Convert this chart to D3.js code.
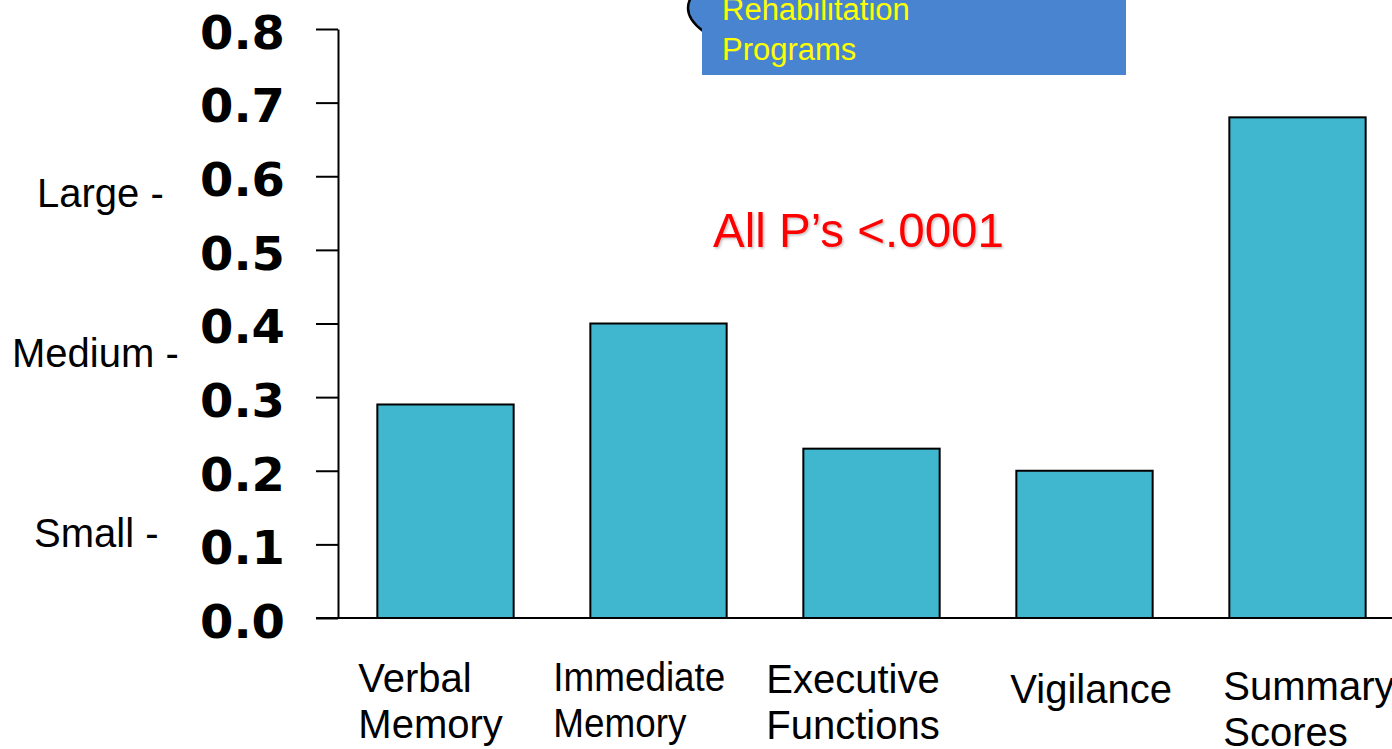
<!DOCTYPE html>
<html>
<head>
<meta charset="utf-8">
<script src="https://cdn.jsdelivr.net/npm/d3@7"></script>
<style>
  html, body { margin: 0; padding: 0; background: #fff; overflow: hidden; }
  svg { display: block; }
</style>
</head>
<body>
<svg id="chart" width="1392" height="749"></svg>
<script>
// ---- data ----
const categories = ["Verbal Memory", "Immediate Memory", "Executive Functions", "Vigilance", "Summary Scores"];
const categoryLines = [["Verbal", "Memory"], ["Immediate", "Memory"], ["Executive", "Functions"], ["Vigilance"], ["Summary", "Scores"]];
const effectSizes = [0.29, 0.40, 0.23, 0.20, 0.68];
const yTicks = [0.0, 0.1, 0.2, 0.3, 0.4, 0.5, 0.6, 0.7, 0.8];
const effectLabels = ["Large -", "Medium -", "Small -"];
const annotationText = "All P\u2019s <.0001";
const calloutLines = ["Rehabilitation", "Programs"];

// ---- layout ----
const W = 1392, H = 749;
const axisX = 338, baseY = 618, topY = 29;
const labelDx = [-19, -37, -37, -6, -6];
const labelDy = [74, 73, 75, 85, 82];
const condensedWidths = { 1: [172, 133] };   // Immediate Memory label is set condensed
const effectLabelPos = [[37, 207], [12, 367], [34, 547]];

const svg = d3.select("#chart");

const x = d3.scaleBand().domain(categories).range([339, 1404]).paddingInner(0.36).paddingOuter(0.18);
const y = d3.scaleLinear().domain([0, 0.8]).range([baseY, topY]);

// drop shadow filter for red annotation
const defs = svg.append("defs");
const f = defs.append("filter").attr("id", "shadow").attr("x", "-10%").attr("y", "-30%").attr("width", "120%").attr("height", "160%");
f.append("feDropShadow").attr("dx", 1.5).attr("dy", 1.5).attr("stdDeviation", 1.2).attr("flood-color", "#000").attr("flood-opacity", 0.25);

// callout (speech blob + box)
svg.append("ellipse")
  .attr("cx", 905).attr("cy", 8).attr("rx", 217).attr("ry", 63)
  .attr("fill", "#4884CF").attr("stroke", "#000").attr("stroke-width", 2.5);
svg.append("rect")
  .attr("x", 702).attr("y", -5).attr("width", 424).attr("height", 80)
  .attr("fill", "#4884CF");
svg.append("g").selectAll("text").data(calloutLines).join("text")
  .attr("x", 722).attr("y", (d, i) => 20 + i * 40)
  .attr("font-family", "Liberation Sans, Arial, sans-serif")
  .attr("font-size", 31).attr("fill", "#FFFF00")
  .text(d => d);

// bars
svg.append("g").selectAll("rect").data(effectSizes).join("rect")
  .attr("x", (d, i) => x(categories[i]))
  .attr("y", d => y(d))
  .attr("width", x.bandwidth())
  .attr("height", d => baseY - y(d))
  .attr("fill", "#40B7CE")
  .attr("stroke", "#000").attr("stroke-width", 2);

// y axis
const yAxis = d3.axisLeft(y).tickValues(yTicks).tickFormat(d3.format(".1f"))
  .tickSizeInner(22).tickSizeOuter(0).tickPadding(31);
const gy = svg.append("g").attr("transform", `translate(${axisX},0)`).call(yAxis);
gy.select(".domain").attr("stroke", "#000").attr("stroke-width", 2);
gy.selectAll(".tick line").attr("stroke", "#000").attr("stroke-width", 2);
gy.selectAll(".tick text")
  .attr("font-family", "DejaVu Sans, sans-serif")
  .attr("font-weight", "bold")
  .attr("font-size", 46)
  .attr("fill", "#000")
  .attr("dy", "0.42em")
  .attr("textLength", 85).attr("lengthAdjust", "spacingAndGlyphs");

// x baseline
svg.append("line")
  .attr("x1", 316).attr("x2", W).attr("y1", baseY).attr("y2", baseY)
  .attr("stroke", "#000").attr("stroke-width", 2);

// category labels
const gl = svg.append("g")
  .attr("font-family", "Liberation Sans, Arial, sans-serif")
  .attr("font-size", 40).attr("fill", "#000");
categories.forEach((c, i) => {
  const t = gl.append("text")
    .attr("x", x(c) + labelDx[i])
    .attr("y", baseY + labelDy[i]);
  const sp = t.selectAll("tspan").data(categoryLines[i]).join("tspan")
    .attr("x", x(c) + labelDx[i])
    .attr("dy", (d, j) => j === 0 ? 0 : 46)
    .text(d => d);
  if (condensedWidths[i]) {
    sp.attr("textLength", (d, j) => condensedWidths[i][j]).attr("lengthAdjust", "spacingAndGlyphs");
  }
});

// effect size labels
svg.append("g").selectAll("text").data(effectLabels).join("text")
  .attr("x", (d, i) => effectLabelPos[i][0])
  .attr("y", (d, i) => effectLabelPos[i][1])
  .attr("font-family", "Liberation Sans, Arial, sans-serif")
  .attr("font-size", 40).attr("fill", "#000")
  .text(d => d);

// annotation
svg.append("text")
  .attr("x", 713).attr("y", 247)
  .attr("font-family", "Liberation Sans, Arial, sans-serif")
  .attr("font-size", 47.5).attr("fill", "#FF0000")
  .attr("filter", "url(#shadow)")
  .text(annotationText);
</script>
</body>
</html>
